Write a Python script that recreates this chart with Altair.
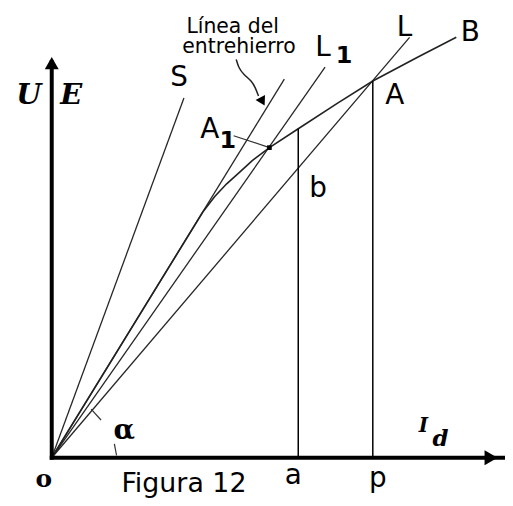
import altair as alt
import pandas as pd

# ---------------- data (arbitrary units: x = I_d, y = U / E) ----------------
# magnetization curve o - A1 - A - B
curve_x = [0, 38, 41, 44, 47, 50.5, 54.75, 62, 72, 80.75, 92, 101.75]
curve_y = [0, 61.8, 65.7, 68.9, 71.6, 74.8, 78, 82.75, 89.25, 94.75, 100.75, 105.75]

# straight lines starting at the origin (end points)
ray_names = ["S", "entrehierro", "L1", "L"]
ray_end_x = [33.25, 58.5, 68.75, 90]
ray_end_y = [90.5, 95.25, 98.25, 105.75]

# ordinates a-b and p-A
ord_names = ["a", "p"]
ord_x = [62, 80.75]
ord_top = [82.75, 94.75]

# point A1 and its leader line
a1_x = [54.75]
a1_y = [78]
leader_x = [45.75, 54.75]
leader_y = [81, 78]

# curved pointer of "Línea del entrehierro"
note_x = [46.4, 47, 48.25, 50.3, 51.2, 52]
note_y = [100.2, 98.1, 96.4, 94.75, 93.1, 91]

# angle alpha marks
alpha_tick_x = [9.9, 12.4]
alpha_tick_y = [12.25, 9.5]
alpha_arc_x = [15.75, 16.3]
alpha_arc_y = [3.5, 0.6]

# axes
x_axis_x = [-0.5, 114]
y_axis_y = [-0.5, 100]

# arrow heads: x, y, shape, size, angle
head_x = [0, 110.5, 53]
head_y = [99.25, 0, 89.6]
head_shape = ["triangle-up", "triangle-right", "triangle-right"]
head_size = [196, 230, 115]
head_angle = [0, 0, 62]

# labels
sans_text = ["S", "L", "L", "B", "A", "A", "b", "a", "p"]
sans_x = [32, 68.25, 88.75, 105.25, 86.25, 39.75, 67, 60.75, 82]
sans_y = [93.5, 101, 106, 104.75, 89, 80.5, 65.5, -6.5, -7.25]

sub_text = ["1", "1"]
sub_x = [73.5, 44.25]
sub_y = [99.25, 78]

small_text = ["Línea del", "entrehierro", "Figura 12"]
small_x = [45.5, 47.1, 33.25]
small_y = [106.75, 101.75, -8.5]
small_size = [20.5, 20.5, 27]

math_text = ["U", "E", "I", "d"]
math_x = [-5.75, 4.9, 93.5, 97.75]
math_y = [89, 89, 6.5, 3]
math_size = [29, 29, 20, 23]

serif_text = ["o", "α"]
serif_x = [-2, 18.25]
serif_y = [-7.25, 4.75]
serif_size = [25, 28]

# ---------------- build ----------------
XS = alt.Scale(domain=[-11, 114], nice=False, zero=False)
YS = alt.Scale(domain=[-9.75, 112.75], nice=False, zero=False)


def X(f):
    return alt.X(f, type="quantitative", scale=XS, axis=None)


def Y(f):
    return alt.Y(f, type="quantitative", scale=YS, axis=None)


axes_df = pd.DataFrame({
    "x": [x_axis_x[0], 0], "y": [0, y_axis_y[0]],
    "x2": [x_axis_x[1], 0], "y2": [0, y_axis_y[1]],
})
rays_df = pd.DataFrame({"name": ray_names, "x": 0, "y": 0,
                        "x2": ray_end_x, "y2": ray_end_y})
ords_df = pd.DataFrame({"name": ord_names, "x": ord_x, "y": 0,
                        "x2": ord_x, "y2": ord_top})
ticks_df = pd.DataFrame({
    "x": [alpha_tick_x[0], alpha_arc_x[0], leader_x[0]],
    "y": [alpha_tick_y[0], alpha_arc_y[0], leader_y[0]],
    "x2": [alpha_tick_x[1], alpha_arc_x[1], leader_x[1]],
    "y2": [alpha_tick_y[1], alpha_arc_y[1], leader_y[1]],
})
curve_df = pd.DataFrame({"x": curve_x, "y": curve_y, "o": range(len(curve_x))})
note_df = pd.DataFrame({"x": note_x, "y": note_y, "o": range(len(note_x))})
heads_df = pd.DataFrame({"x": head_x, "y": head_y, "shape": head_shape,
                         "size": head_size, "angle": head_angle})
dot_df = pd.DataFrame({"x": a1_x, "y": a1_y})

axes = alt.Chart(axes_df).mark_rule(color="black", strokeWidth=4).encode(
    x=X("x"), y=Y("y"), x2="x2", y2="y2")
rays = alt.Chart(rays_df).mark_rule(color="#262626", strokeWidth=1.3).encode(
    x=X("x"), y=Y("y"), x2="x2", y2="y2")
ords = alt.Chart(ords_df).mark_rule(color="black", strokeWidth=1.5).encode(
    x=X("x"), y=Y("y"), x2="x2", y2="y2")
ticks = alt.Chart(ticks_df).mark_rule(color="#333", strokeWidth=1.2).encode(
    x=X("x"), y=Y("y"), x2="x2", y2="y2")
curve = alt.Chart(curve_df).mark_line(color="#222", strokeWidth=1.6,
                                      interpolate="linear").encode(
    x=X("x"), y=Y("y"), order="o:Q")
note = alt.Chart(note_df).mark_line(color="#222", strokeWidth=1.5,
                                    interpolate="basis").encode(
    x=X("x"), y=Y("y"), order="o:Q")
heads = alt.Chart(heads_df).mark_point(filled=True, color="black", opacity=1).encode(
    x=X("x"), y=Y("y"),
    shape=alt.Shape("shape:N", scale=None),
    size=alt.Size("size:Q", scale=None),
    angle=alt.Angle("angle:Q", scale=None))
dot = alt.Chart(dot_df).mark_square(color="black", size=22, opacity=1).encode(
    x=X("x"), y=Y("y"))


def text_layer(texts, xs, ys, sizes, font, weight="normal", style="normal"):
    df = pd.DataFrame({"t": texts, "x": xs, "y": ys, "s": sizes})
    return alt.Chart(df).mark_text(
        align="center", baseline="alphabetic", font=font,
        fontWeight=weight, fontStyle=style, color="black").encode(
        x=X("x"), y=Y("y"), text="t:N", size=alt.Size("s:Q", scale=None))


t_sans = text_layer(sans_text, sans_x, sans_y, [28] * len(sans_text), "DejaVu Sans")
t_sub = text_layer(sub_text, sub_x, sub_y, [24, 24], "DejaVu Sans", weight="bold")
t_small = text_layer(small_text, small_x, small_y, small_size, "DejaVu Sans")
t_math = text_layer(math_text, math_x, math_y, math_size, "DejaVu Serif",
                    weight="bold", style="italic")
t_serif = text_layer(serif_text, serif_x, serif_y, serif_size, "DejaVu Serif",
                     weight="bold")

chart = alt.layer(
    rays, curve, ords, ticks, note, axes, heads, dot,
    t_sans, t_sub, t_small, t_math, t_serif,
).properties(
    width=500, height=490, padding=0, background="white",
    autosize=alt.AutoSizeParams(type="none"),
).configure_view(stroke=None)

chart.save("out.html", embed_options={"renderer": "svg", "actions": False})
